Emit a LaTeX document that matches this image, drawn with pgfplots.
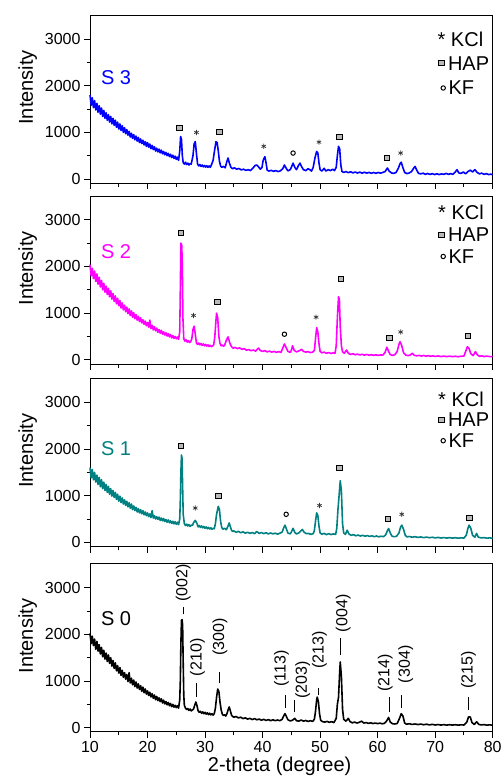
\documentclass[border=0pt]{standalone}
\usepackage{pgfplots}
\pgfplotsset{compat=1.18}
\usepackage{fontspec}
\setmainfont{Liberation Sans}
\definecolor{sblue}{RGB}{0,0,255}
\definecolor{smag}{RGB}{255,0,255}
\definecolor{steal}{RGB}{0,128,128}
\newcommand\fa{\fontsize{20}{22}\selectfont}
\newcommand\fb{\fontsize{16}{18}\selectfont}
\pgfplotsset{
  xrdaxis/.style={
    scale only axis, width=402.7pt, height=168pt,
    xmin=10, xmax=80, ymin=-90, ymax=3510,
    xtick={10,20,...,80}, minor x tick num=1,
    ytick={0,1000,2000,3000}, minor y tick num=1,
    tick align=outside, tick pos=left,
    major tick length=6pt, minor tick length=3.5pt,
    axis line style={line width=0.9pt}, every tick/.style={black,line width=0.9pt},
    /pgf/number format/assume math mode=true,
    /pgf/number format/1000 sep={},
    ticklabel style={font=\fb},
    ylabel={Intensity}, ylabel style={font=\fa, at={(axis description cs:-0.155,0.57)}, anchor=center},
    clip=false,
  },
  xrd/.style={line width=1.6pt, line join=round},
  sq/.style={only marks, mark=square*, mark size=2.5pt, mark options={fill=gray!55, draw=black, line width=0.8pt, xscale=1.15}},
  ast/.style={only marks, mark=asterisk, mark size=2.6pt, mark options={black!80, line width=0.7pt}},
  kf/.style={only marks, mark=o, mark size=2.2pt, mark options={black, line width=1pt}},
}
\begin{document}
\begin{tikzpicture}
\path[use as bounding box] (0pt,0pt) rectangle (501pt,-783pt);
% ---------------- S3 ----------------
\begin{axis}[xrdaxis, at={(90pt,-183.2pt)}, anchor=south west, xticklabels={}]
\addplot[sblue, xrd] table {
10.0 1800
10.2 1580
10.4 1740
10.6 1530
10.8 1680
11.0 1480
11.2 1620
11.4 1430
11.6 1570
11.8 1390
12.0 1520
12.2 1340
12.4 1470
12.6 1300
12.8 1420
13.0 1260
13.2 1380
13.4 1220
13.6 1340
13.8 1180
14.0 1300
14.2 1150
14.4 1260
14.6 1110
14.8 1220
15.0 1070
15.2 1180
15.4 1040
15.6 1140
15.8 1000
16.0 1100
16.2 970
16.4 1060
16.6 940
16.8 1020
17.0 900
17.2 980
17.4 870
17.6 950
17.8 840
18.0 920
18.2 810
18.4 890
18.6 780
18.8 860
19.0 760
19.2 830
19.4 730
19.6 800
19.8 700
20.0 780
20.2 680
20.4 750
20.6 650
20.8 720
21.0 630
21.2 690
21.4 600
21.6 660
21.8 580
22.0 640
22.2 560
22.4 620
22.6 540
22.8 590
23.0 520
23.2 570
23.4 500
23.6 550
23.8 480
24.0 530
24.2 460
24.4 510
24.6 440
24.8 490
25.0 420
25.2 470
25.4 400
25.6 600
25.75 910
25.9 850
26.05 500
26.2 350
26.4 320
26.6 360
26.8 310
27.0 340
27.2 300
27.4 330
27.6 320
27.9 500
28.1 750
28.3 800
28.5 550
28.7 320
28.9 280
29.1 310
29.3 270
29.5 300
29.7 260
29.9 290
30.1 255
30.3 285
30.5 250
30.7 280
30.9 250
31.1 300
31.4 400
31.7 650
31.9 800
32.1 780
32.3 600
32.5 380
32.7 280
32.9 250
33.2 270
33.5 240
33.8 380
34.0 450
34.2 350
34.5 250
34.8 220
35.1 240
35.5 210
35.9 225
36.3 195
36.7 210
37.1 185
37.5 200
37.9 180
38.3 230
38.7 290
39.0 300
39.3 260
39.6 210
39.9 250
40.1 400
40.4 480
40.6 350
40.8 190
41.1 170
41.5 185
41.9 165
42.3 180
42.7 160
43.1 175
43.5 220
43.8 300
44.1 230
44.4 175
44.8 200
45.0 250
45.3 340
45.6 250
45.9 200
46.2 280
46.5 340
46.8 260
47.1 200
47.5 180
47.9 220
48.2 200
48.5 170
48.8 250
49.1 450
49.4 590
49.6 560
49.8 350
50.0 200
50.3 170
50.7 230
51.0 170
51.4 200
51.8 180
52.2 210
52.5 180
52.8 250
53.0 500
53.2 700
53.4 650
53.6 300
53.8 160
54.1 140
54.5 160
54.9 135
55.3 155
55.7 130
56.1 150
56.5 128
56.9 148
57.3 125
57.7 145
58.1 125
58.5 142
58.9 122
59.3 140
59.7 122
60.1 140
60.5 125
60.9 140
61.3 160
61.7 235
62.0 170
62.4 130
62.8 120
63.2 140
63.6 230
63.9 330
64.1 360
64.4 240
64.7 140
65.1 115
65.5 130
65.9 160
66.2 220
66.5 270
66.8 190
67.1 120
67.5 110
67.9 125
68.3 100
68.7 118
69.1 98
69.5 115
69.9 95
70.3 112
70.7 95
71.1 110
71.5 100
71.9 120
72.3 100
72.7 115
73.1 100
73.5 150
73.8 200
74.1 130
74.5 120
74.9 150
75.3 110
75.7 160
76.1 190
76.5 150
76.9 200
77.3 140
77.7 110
78.1 125
78.5 100
78.9 115
79.3 95
79.7 105
80.0 90
};
\addplot[sq] coordinates {(25.6,1105) (32.5,1005) (53.3,912) (61.6,442) (71.1,2480)};
\addplot[ast] coordinates {(28.5,998) (40.2,700) (49.8,790) (64.0,556)};
\addplot[kf] coordinates {(45.3,556) (71.4,1950)};
\node[anchor=west, font=\fa, text=sblue] at (axis cs:11.3,2164) {S 3};
\node[anchor=west, font=\fa, inner sep=0pt] at (axis cs:70.4,3000) {* KCl};
\node[anchor=west, font=\fa, inner sep=0pt] at (axis cs:72.2,2480) {HAP};
\node[anchor=west, font=\fa, inner sep=0pt] at (axis cs:72.3,1950) {KF};
\end{axis}
% ---------------- S2 ----------------
\begin{axis}[xrdaxis, at={(90pt,-364pt)}, anchor=south west, xticklabels={}]
\addplot[smag, xrd] table {
10.0 2040
10.2 1800
10.4 1960
10.6 1740
10.8 1900
11.0 1680
11.2 1840
11.4 1620
11.6 1770
11.8 1560
12.0 1700
12.2 1500
12.4 1640
12.6 1450
12.8 1580
13.0 1400
13.2 1530
13.4 1350
13.6 1480
13.8 1300
14.0 1420
14.2 1250
14.4 1370
14.6 1200
14.8 1320
15.0 1160
15.2 1270
15.4 1110
15.6 1220
15.8 1070
16.0 1170
16.2 1030
16.4 1130
16.6 990
16.8 1090
17.0 950
17.2 1050
17.4 910
17.6 1010
17.8 880
18.0 970
18.2 850
18.4 930
18.6 820
18.8 900
19.0 790
19.2 860
19.4 760
19.6 830
19.8 730
20.0 800
20.2 700
20.4 850
20.6 670
20.8 740
21.0 640
21.2 710
21.4 620
21.6 680
21.8 590
22.0 650
22.2 570
22.4 630
22.6 550
22.8 600
23.0 530
23.2 580
23.4 510
23.6 560
23.8 490
24.0 540
24.2 470
24.4 520
24.6 460
24.8 500
25.0 450
25.2 490
25.4 440
25.6 600
25.7 1500
25.8 2500
25.95 2450
26.05 2000
26.15 900
26.3 450
26.5 400
26.7 430
26.9 380
27.1 410
27.3 370
27.5 390
27.7 450
27.9 650
28.1 720
28.3 550
28.5 360
28.7 330
28.9 360
29.1 320
29.3 350
29.5 310
29.7 340
29.9 300
30.1 330
30.3 295
30.5 320
30.7 285
30.9 310
31.1 280
31.3 300
31.5 320
31.7 500
31.9 850
32.0 1000
32.2 900
32.4 500
32.6 350
32.8 300
33.0 320
33.2 290
33.4 310
33.7 420
34.0 490
34.3 360
34.6 280
34.9 250
35.2 265
35.6 240
36.0 255
36.4 225
36.8 240
37.2 205
37.6 220
38.0 195
38.4 210
38.8 185
39.1 230
39.3 250
39.6 200
40.0 180
40.4 195
40.8 170
41.2 185
41.6 165
42.0 180
42.4 160
42.8 175
43.2 160
43.5 250
43.8 340
44.1 260
44.4 180
44.8 160
45.0 200
45.2 300
45.5 200
45.9 170
46.3 190
46.6 210
46.8 225
47.1 180
47.5 165
47.9 175
48.3 155
48.7 165
49.0 200
49.2 450
49.4 690
49.6 600
49.8 350
50.0 180
50.3 150
50.7 165
51.1 140
51.5 155
51.9 135
52.3 150
52.6 140
52.8 300
53.0 900
53.2 1350
53.35 1300
53.5 700
53.7 300
53.9 170
54.2 140
54.6 210
54.9 140
55.3 115
55.7 130
56.1 108
56.5 122
56.9 104
57.3 118
57.7 100
58.1 114
58.5 98
58.9 110
59.3 96
59.7 106
60.1 94
60.5 104
60.9 100
61.3 160
61.6 270
61.9 180
62.2 110
62.6 95
63.0 110
63.4 180
63.7 330
63.9 390
64.2 300
64.5 150
64.9 100
65.3 90
65.7 105
66.0 140
66.4 95
66.8 85
67.2 95
67.6 80
68.0 92
68.4 78
68.8 88
69.2 75
69.6 85
70.0 72
70.5 82
71.0 70
71.5 80
72.0 68
72.5 78
73.0 68
73.5 76
74.0 66
74.5 76
75.0 80
75.3 180
75.6 280
75.9 240
76.2 130
76.6 90
77.0 175
77.3 110
77.7 75
78.1 85
78.5 70
79.0 80
79.5 68
80.0 70
};
\addplot[sq] coordinates {(25.8,2720) (32.1,1245) (53.6,1736) (62.0,471) (75.7,513) (71.1,2684)};
\addplot[ast] coordinates {(28.0,950) (49.3,914) (64.0,597)};
\addplot[kf] coordinates {(43.8,548) (71.4,2214)};
\node[anchor=west, font=\fa, text=smag] at (axis cs:11.3,2321) {S 2};
\node[anchor=west, font=\fa, inner sep=0pt] at (axis cs:70.5,3157) {* KCl};
\node[anchor=west, font=\fa, inner sep=0pt] at (axis cs:72.2,2684) {HAP};
\node[anchor=west, font=\fa, inner sep=0pt] at (axis cs:72.3,2214) {KF};
\end{axis}
% ---------------- S1 ----------------
\begin{axis}[xrdaxis, at={(90pt,-546.5pt)}, anchor=south west, xticklabels={}]
\addplot[steal, xrd] table {
10.0 1600
10.2 1380
10.4 1560
10.6 1340
10.8 1500
11.0 1290
11.2 1440
11.4 1240
11.6 1390
11.8 1190
12.0 1340
12.2 1150
12.4 1290
12.6 1110
12.8 1240
13.0 1070
13.2 1200
13.4 1030
13.6 1150
13.8 990
14.0 1110
14.2 960
14.4 1070
14.6 920
14.8 1030
15.0 880
15.2 990
15.4 850
15.6 950
15.8 820
16.0 910
16.2 790
16.4 880
16.6 760
16.8 850
17.0 730
17.2 820
17.4 700
17.6 780
17.8 680
18.0 750
18.2 650
18.4 720
18.6 630
18.8 700
19.0 610
19.2 680
19.4 590
19.6 650
19.8 570
20.0 630
20.2 550
20.4 610
20.6 530
20.8 680
21.0 520
21.2 570
21.4 500
21.6 550
21.8 490
22.0 540
22.2 470
22.4 520
22.6 460
22.8 510
23.0 445
23.2 490
23.4 430
23.6 480
23.8 420
24.0 460
24.2 405
24.4 450
24.6 395
24.8 440
25.0 385
25.2 430
25.4 380
25.6 500
25.7 900
25.8 1500
25.9 1870
26.0 1800
26.1 1200
26.2 600
26.4 400
26.6 360
26.8 390
27.0 350
27.2 380
27.4 340
27.6 370
27.8 360
28.0 420
28.3 470
28.6 400
28.8 330
29.0 360
29.2 320
29.4 350
29.6 310
29.8 340
30.0 300
30.2 330
30.4 290
30.6 320
30.8 285
31.0 310
31.2 280
31.4 300
31.6 290
31.8 400
32.0 600
32.3 770
32.5 700
32.7 450
32.9 320
33.1 280
33.4 300
33.7 270
34.0 350
34.2 415
34.4 330
34.6 260
34.8 230
35.0 245
35.4 215
35.8 235
36.2 205
36.6 225
37.0 195
37.4 215
37.8 190
38.2 210
38.6 185
39.0 230
39.4 190
39.8 210
40.2 185
40.6 205
41.0 180
41.4 200
41.8 180
42.2 195
42.6 175
43.0 195
43.4 220
43.7 320
43.9 367
44.1 300
44.4 200
44.8 180
45.0 220
45.3 300
45.6 210
45.9 180
46.3 200
46.6 240
46.9 275
47.2 220
47.6 185
48.0 190
48.4 170
48.8 185
49.0 250
49.2 450
49.4 630
49.6 580
49.8 350
50.0 200
50.3 175
50.7 190
51.1 165
51.5 185
51.9 165
52.3 180
52.7 170
52.9 300
53.1 700
53.3 1000
53.5 1320
53.7 1100
53.9 400
54.1 200
54.4 170
54.7 260
55.0 180
55.4 150
55.8 165
56.2 140
56.6 155
57.0 135
57.4 150
57.8 130
58.2 145
58.6 125
59.0 140
59.4 120
59.8 135
60.2 118
60.6 130
61.0 120
61.4 160
61.7 250
61.9 296
62.2 200
62.5 130
62.9 120
63.3 130
63.7 200
64.0 330
64.2 367
64.5 280
64.8 150
65.1 115
65.5 125
66.0 110
66.5 120
67.0 105
67.5 115
68.0 100
68.5 112
69.0 98
69.5 108
70.0 95
70.5 105
71.0 92
71.5 102
72.0 90
72.5 100
73.0 90
73.5 98
74.0 88
74.5 96
75.0 90
75.4 150
75.7 300
75.9 367
76.2 300
76.5 150
76.9 110
77.2 190
77.5 110
78.0 95
78.5 100
79.0 88
79.5 96
80.0 85
};
\addplot[sq] coordinates {(25.8,2068) (32.3,988) (53.3,1595) (61.8,494) (75.9,530) (71.1,2621)};
\addplot[ast] coordinates {(28.3,734) (49.9,790) (64.2,600)};
\addplot[kf] coordinates {(44.1,600) (71.4,2177)};
\node[anchor=west, font=\fa, text=steal] at (axis cs:11.3,2014) {S 1};
\node[anchor=west, font=\fa, inner sep=0pt] at (axis cs:70.5,3064) {* KCl};
\node[anchor=west, font=\fa, inner sep=0pt] at (axis cs:72.2,2621) {HAP};
\node[anchor=west, font=\fa, inner sep=0pt] at (axis cs:72.3,2177) {KF};
\end{axis}
% ---------------- S0 ----------------
\begin{axis}[xrdaxis, at={(90pt,-731.9pt)}, anchor=south west,
  xlabel={2-theta (degree)}, xlabel style={font=\fa, at={(axis description cs:0.471,-0.236)}, anchor=base}]
\addplot[black, xrd] table {
10.0 2020
10.2 1800
10.4 1960
10.6 1760
10.8 1900
11.0 1680
11.2 1850
11.4 1640
11.6 1780
11.8 1580
12.0 1720
12.2 1520
12.4 1660
12.6 1470
12.8 1600
13.0 1420
13.2 1560
13.4 1380
13.6 1500
13.8 1320
14.0 1440
14.2 1270
14.4 1390
14.6 1220
14.8 1330
15.0 1170
15.2 1290
15.4 1120
15.6 1230
15.8 1080
16.0 1180
16.2 1040
16.4 1140
16.6 990
16.8 1180
17.0 960
17.2 1060
17.4 920
17.6 1020
17.8 880
18.0 980
18.2 850
18.4 940
18.6 820
18.8 900
19.0 780
19.2 870
19.4 750
19.6 830
19.8 720
20.0 790
20.2 690
20.4 760
20.6 660
20.8 730
21.0 630
21.2 700
21.4 600
21.6 670
21.8 580
22.0 640
22.2 560
22.4 620
22.6 530
22.8 590
23.0 510
23.2 560
23.4 490
23.6 540
23.8 470
24.0 520
24.2 450
24.4 500
24.6 440
24.8 480
25.0 430
25.2 470
25.4 420
25.6 600
25.7 1000
25.8 1800
25.9 2300
26.0 2315
26.1 2200
26.2 1400
26.3 700
26.4 480
26.6 420
26.8 390
27.0 410
27.2 370
27.4 400
27.6 360
27.8 380
28.0 400
28.2 480
28.4 550
28.6 470
28.8 360
29.0 330
29.2 350
29.4 310
29.6 340
29.8 300
30.0 330
30.2 290
30.4 320
30.6 280
30.8 310
31.0 275
31.2 300
31.4 270
31.6 300
31.8 420
32.0 650
32.2 830
32.4 780
32.6 550
32.8 380
33.0 290
33.2 260
33.4 280
33.6 250
33.8 300
34.0 380
34.2 445
34.4 360
34.6 270
34.8 240
35.0 225
35.4 240
35.8 210
36.2 225
36.6 195
37.0 210
37.4 185
37.8 200
38.2 175
38.6 195
39.0 170
39.4 185
39.8 160
40.2 180
40.6 155
41.0 175
41.4 150
41.8 170
42.2 150
42.6 165
43.0 150
43.4 180
43.7 260
43.9 300
44.1 250
44.4 170
44.8 145
45.2 160
45.6 200
45.9 150
46.3 140
46.7 165
47.1 140
47.5 155
47.9 135
48.3 150
48.7 135
49.0 180
49.2 350
49.4 600
49.5 656
49.7 560
49.9 300
50.1 160
50.4 130
50.8 120
51.2 135
51.6 115
52.0 130
52.4 110
52.8 200
53.0 500
53.2 650
53.4 1200
53.5 1410
53.7 1100
53.9 400
54.1 180
54.5 140
54.9 200
55.2 130
55.6 105
56.0 120
56.4 100
56.8 115
57.2 140
57.6 100
58.0 110
58.4 92
58.8 105
59.2 90
59.6 100
60.0 88
60.4 98
60.8 85
61.2 95
61.6 150
61.9 220
62.2 120
62.6 85
63.0 80
63.4 90
63.8 200
64.1 300
64.4 250
64.7 100
65.0 75
65.5 85
66.0 70
66.5 80
67.0 68
67.5 78
68.0 64
68.5 75
69.0 60
69.5 72
70.0 58
70.5 68
71.0 56
71.5 66
72.0 55
72.5 65
73.0 56
73.5 64
74.0 55
74.5 62
75.0 58
75.5 120
75.8 233
76.1 230
76.4 110
76.8 70
77.2 127
77.6 70
78.0 60
78.5 66
79.0 55
79.5 62
80.0 52
};
% peak index dashes
\addplot[black, line width=0.9pt] coordinates {(26.2,2429) (26.2,2593)};
\addplot[black, line width=0.9pt] coordinates {(28.5,664) (28.5,950)};
\addplot[black, line width=0.9pt] coordinates {(32.5,950) (32.5,1200)};
\addplot[black, line width=0.9pt] coordinates {(43.9,429) (43.9,700)};
\addplot[black, line width=0.9pt] coordinates {(45.5,343) (45.5,593)};
\addplot[black, line width=0.9pt] coordinates {(49.7,700) (49.7,857)};
\addplot[black, line width=0.9pt] coordinates {(53.5,1557) (53.5,1914)};
\addplot[black, line width=0.9pt] coordinates {(62.0,343) (62.0,664)};
\addplot[black, line width=0.9pt] coordinates {(64.2,414) (64.2,700)};
\addplot[black, line width=0.9pt] coordinates {(75.8,379) (75.8,664)};
\node[rotate=90, font=\fb] at (axis cs:26.2,3094) {(002)};
\node[rotate=90, font=\fb] at (axis cs:28.7,1508) {(210)};
\node[rotate=90, font=\fb] at (axis cs:32.6,1937) {(300)};
\node[rotate=90, font=\fb] at (axis cs:43.3,1273) {(113)};
\node[rotate=90, font=\fb] at (axis cs:47.0,1022) {(203)};
\node[rotate=90, font=\fb] at (axis cs:49.9,1665) {(213)};
\node[rotate=90, font=\fb] at (axis cs:54.0,2451) {(004)};
\node[rotate=90, font=\fb] at (axis cs:61.3,1166) {(214)};
\node[rotate=90, font=\fb] at (axis cs:64.9,1358) {(304)};
\node[rotate=90, font=\fb] at (axis cs:75.8,1237) {(215)};
\node[anchor=west, font=\fa] at (axis cs:11.3,2344) {S 0};
\end{axis}
\end{tikzpicture}
\end{document}
